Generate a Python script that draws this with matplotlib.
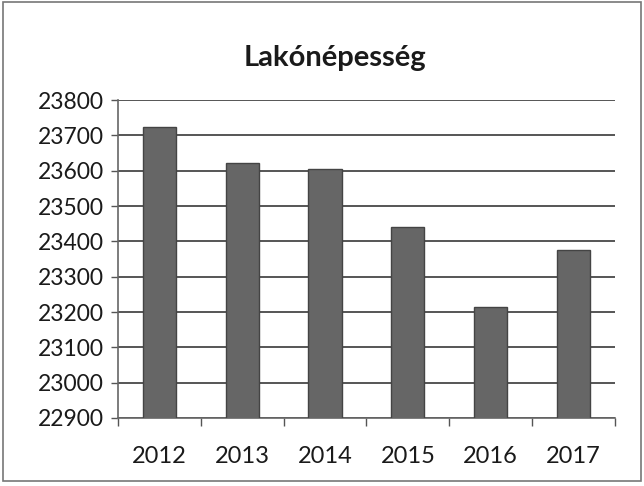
import matplotlib
matplotlib.use("Agg")
import matplotlib.pyplot as plt

years = ["2012", "2013", "2014", "2015", "2016", "2017"]
population = [23725, 23623, 23605, 23440, 23215, 23375]
yticks = [22900, 23000, 23100, 23200, 23300, 23400, 23500, 23600, 23700, 23800]
title = "Lakónépesség"

plt.rcParams['font.family'] = ['Lato', 'DejaVu Sans']

fig = plt.figure(figsize=(6.44, 4.86), dpi=100)
fig.patch.set_facecolor('white')
ax = fig.add_axes([0.183, 0.14, 0.772, 0.654])

x = list(range(len(years)))
ax.bar(x, population, width=0.4, color='#666666', edgecolor='#444444', linewidth=1.0, zorder=3)
ax.set_ylim(22900, 23800)
ax.set_xlim(-0.5, len(years) - 0.5)
ax.set_yticks(yticks)
ax.set_yticklabels([str(v) for v in yticks], fontsize=16.5, color='#1a1a1a')
ax.set_xticks(x)
ax.set_xticklabels(years, fontsize=17, color='#1a1a1a')
ax.tick_params(axis='x', length=0, pad=20)
ax.tick_params(axis='y', length=5, width=1, color='#555555', pad=5, direction='out')
ax.set_xticks([i + 0.5 for i in range(-1, len(years))], minor=True)
ax.tick_params(axis='x', which='minor', length=6, width=1, color='#555555')

ax.grid(axis='y', color='#555555', linewidth=1.4, zorder=0)
for s in ['top', 'right']:
    ax.spines[s].set_visible(False)
ax.spines['left'].set_color('#666666')
ax.spines['bottom'].set_color('#666666')
ax.spines['left'].set_linewidth(1.2)
ax.spines['bottom'].set_linewidth(1.2)

fig.text(0.52, 0.88, title, fontsize=21, fontweight='bold', ha='center', va='center', color='#1a1a1a')

fig.add_artist(plt.Rectangle((0.005, 0.01), 0.99, 0.985, transform=fig.transFigure,
                             fill=False, edgecolor='#777777', linewidth=1.2))

fig.savefig('out.png', dpi=100, facecolor='white')
